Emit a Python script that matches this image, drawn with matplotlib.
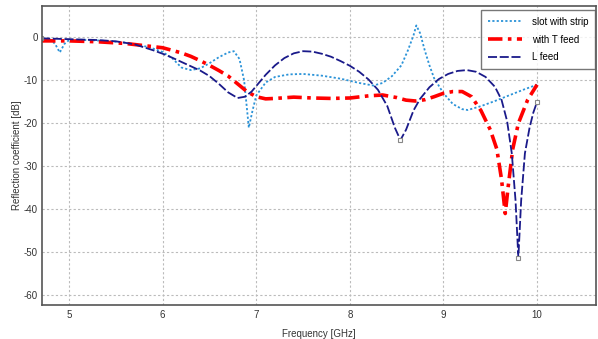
import matplotlib
matplotlib.use("Agg")
import matplotlib.pyplot as plt

plt.rcParams['font.family'] = ['Liberation Sans', 'DejaVu Sans']
plt.rcParams['axes.unicode_minus'] = False

# slot with strip
f_slot = [4.70, 4.80, 4.85, 4.90, 4.95, 5.00, 5.2, 5.4, 5.6, 5.8, 5.9, 6.0, 6.1, 6.2, 6.3,
          6.4, 6.5, 6.6, 6.7, 6.76, 6.82, 6.87, 6.92, 6.96, 7.0, 7.1, 7.2, 7.35, 7.5, 7.7,
          7.9, 8.1, 8.25, 8.35, 8.45, 8.55, 8.62, 8.68, 8.71, 8.75, 8.8, 8.85, 8.9, 9.0,
          9.1, 9.2, 9.26, 9.4, 9.55, 9.7, 9.85, 10.0]
s_slot = [-0.3, -0.5, -1.5, -3.5, -1.5, -0.6, -0.6, -0.8, -1.2, -2.0, -2.6, -3.4, -4.8, -7.0, -7.6,
          -7.2, -6.0, -4.6, -3.5, -3.2, -5, -10, -21, -17, -13.5, -10.5, -9.2, -8.6, -8.5, -8.9,
          -9.6, -10.6, -11.2, -10.6, -9, -6.5, -3, 0.5, 2.8, 1, -3, -6.5, -9.5, -13,
          -15.5, -16.7, -16.9, -16, -14.8, -13.5, -12.2, -11.0]

# with T feed
f_t = [4.70, 5.0, 5.3, 5.6, 5.8, 6.0, 6.1, 6.2, 6.3, 6.4, 6.5, 6.6, 6.7, 6.8, 6.9, 7.0, 7.1,
       7.2, 7.4, 7.6, 7.8, 8.0, 8.2, 8.35, 8.5, 8.6, 8.7, 8.8, 8.9, 9.0, 9.1, 9.2, 9.3, 9.4,
       9.5, 9.57, 9.62, 9.66, 9.69, 9.74, 9.8, 9.9, 10.0]
s_t = [-0.8, -0.8, -1.0, -1.4, -1.9, -2.4, -3.0, -3.6, -4.4, -5.4, -6.5, -7.7, -9.0, -10.8,
       -12.6, -13.8, -14.3, -14.2, -13.9, -14.1, -14.2, -14.1, -13.6, -13.4, -14.0, -14.6,
       -14.8, -14.5, -13.8, -13.0, -12.6, -12.6, -13.8, -17, -21.5, -26, -33, -41, -35, -26,
       -20, -14.5, -11.0]

# L feed
f_l = [4.70, 5.0, 5.3, 5.5, 5.7, 5.9, 6.0, 6.1, 6.2, 6.3, 6.4, 6.5, 6.6, 6.7, 6.8, 6.88, 6.95,
       7.0, 7.1, 7.2, 7.3, 7.4, 7.5, 7.6, 7.7, 7.8, 7.9, 8.0, 8.1, 8.2, 8.3, 8.4, 8.48, 8.54,
       8.6, 8.68, 8.75, 8.85, 8.95, 9.05, 9.15, 9.25, 9.35, 9.45, 9.55, 9.62, 9.68, 9.73,
       9.77, 9.80, 9.83, 9.87, 9.92, 9.96, 10.0]
s_l = [-0.2, -0.4, -0.6, -0.9, -1.6, -3.0, -3.8, -4.7, -5.7, -6.7, -7.7, -9.0, -10.8, -12.8,
       -14.1, -13.8, -12.6, -11.3, -8.7, -6.5, -4.8, -3.7, -3.2, -3.3, -3.8, -4.5, -5.5, -6.6,
       -8.0, -9.8, -12.2, -16, -21, -23.9, -21.5, -17, -14.3, -11.6, -9.7, -8.5, -7.8, -7.6,
       -8.0, -9.2, -11.5, -14.5, -19.5, -27, -38, -51.3, -38, -27, -21, -17.5, -15.0]

yticks = [0, -10, -20, -30, -40, -50, -60]
xticks = [5, 6, 7, 8, 9, 10]

fig = plt.figure(figsize=(5.98, 3.39), dpi=100)
ax = fig.add_axes([0.0702, 0.101, 0.9265, 0.881])

ax.plot(f_slot, s_slot, color='#2b93d8', lw=1.3, ls=(0, (1.2, 1.2)), label='slot with strip')
ax.plot(f_t, s_t, color='#ff0000', lw=2.6, ls=(0, (4, 1.5, 1, 1.5)), label='with T feed')
ax.plot(f_l, s_l, color='#1a1a8a', lw=1.3, ls=(0, (5, 1.5)), label='L feed')
# little marker squares on the L feed trace
ax.plot(f_l, s_l, ls='none', marker='s', ms=3, mfc='white', mec='#888888', mew=0.8,
        markevery=[0, s_l.index(-23.9), s_l.index(-51.3), len(s_l) - 1])

ax.set_xlim(4.71, 10.63)
ax.set_ylim(-62.25, 7.3)
ax.set_xticks(xticks)
ax.set_yticks(yticks)
ax.tick_params(axis='y', labelsize=7, length=0, pad=3, colors='#333333')
ax.tick_params(axis='x', labelsize=7, length=0, pad=4, colors='#333333')
ax.grid(True, color='#bbbbbb', ls=(0, (2, 2)), lw=0.8)
ax.set_axisbelow(True)
for sp in ax.spines.values():
    sp.set_color('#555555')
    sp.set_linewidth(1.2)

ax.set_xlabel('Frequency [GHz]', fontsize=7, color='#333333', labelpad=6)
ax.set_ylabel('Reflection coefficient [dB]', fontsize=7, color='#333333', labelpad=1)

leg = ax.legend(loc='upper right', fontsize=7, frameon=True, fancybox=False,
                borderpad=0.7, labelspacing=0.8, handlelength=3.5, handletextpad=1.0,
                borderaxespad=0.1, bbox_to_anchor=(1.0, 0.99))
leg.get_frame().set_edgecolor('#555555')
leg.get_frame().set_linewidth(1.0)

fig.savefig('out.png', dpi=100)
